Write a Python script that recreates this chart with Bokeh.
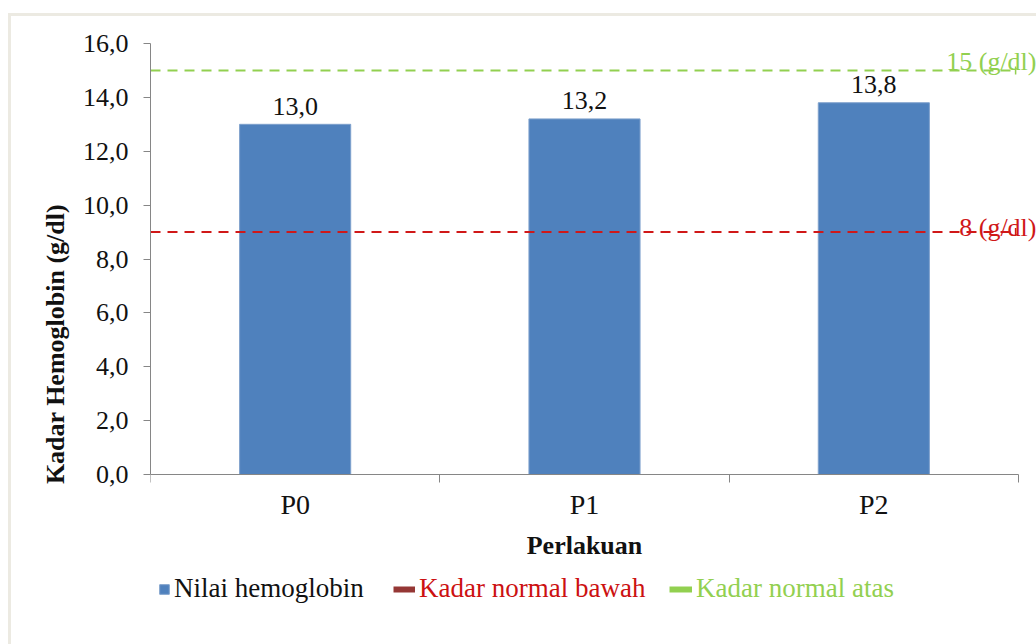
import numpy as np
from bokeh.plotting import figure
from bokeh.models import (FixedTicker, Label, Legend, LegendItem, ColumnDataSource, Range1d)
from bokeh.embed import file_html
from bokeh.resources import INLINE
from bokeh.core.properties import value

# ---- data ----
categories = ["P0", "P1", "P2"]
hemoglobin = [13.0, 13.2, 13.8]
value_labels = ["13,0", "13,2", "13,8"]
normal_low_line = 9.0
normal_high_line = 15.0
normal_low_label = "8 (g/dl)"
normal_high_label = "15 (g/dl)"
y_ticks = [0, 2, 4, 6, 8, 10, 12, 14, 16]
y_tick_labels = ["0,0", "2,0", "4,0", "6,0", "8,0", "10,0", "12,0", "14,0", "16,0"]
series_names = ["Nilai hemoglobin", "Kadar normal bawah", "Kadar normal atas"]
x_title = "Perlakuan"
y_title = "Kadar Hemoglobin (g/dl)"

FONT = "Liberation Serif"
BLUE = "#4F81BD"
GREEN = "#92D050"
RED = "#D01818"
DARKRED = "#953735"
AXIS = "#868686"
TXT = "#111111"
FRAME = "#ECEAE2"

n = len(categories)
xc = [i + 0.5 for i in range(n)]
y_max = y_ticks[-1]
# plot area extends past the axes so that side labels and legend can be drawn
x_end = n + 18 / 289.3
y_start = -170 / 26.94

p = figure(width=1036, height=644, output_backend="svg", toolbar_location=None,
           x_range=Range1d(0, x_end), y_range=Range1d(y_start, y_max),
           min_border_left=150, min_border_right=0, min_border_top=43,
           min_border_bottom=0,
           styles={"background": (f"linear-gradient({FRAME},{FRAME}) 8px 13px / 3px 100% no-repeat, "
                                  f"linear-gradient({FRAME},{FRAME}) 8px 13px / 100% 3px no-repeat, "
                                  "white")})
p.grid.visible = False
p.outline_line_color = None
p.background_fill_color = "white"
p.border_fill_color = None

src = ColumnDataSource(dict(x=xc, top=hemoglobin, lbl=value_labels))
bars = p.vbar(x="x", top="top", bottom=0, width=0.384, source=src,
              fill_color=BLUE, line_color="#7ea0cc", line_width=1)
p.text(x="x", y="top", text="lbl", source=src, text_align="center",
       text_baseline="alphabetic", y_offset=-18, text_font=value(FONT),
       text_font_size="26px", text_color=TXT)

end = n - 0.01
p.line([0, end], [normal_high_line, normal_high_line], line_color=GREEN,
       line_width=2, line_dash="10 7")
p.line([0, end], [normal_low_line, normal_low_line], line_color=RED,
       line_width=2, line_dash="10 7")
p.scatter(x=[end, end], y=[normal_high_line, normal_low_line], marker="dash",
          angle=np.pi / 2, size=8, line_color=[GREEN, RED], line_width=1.5)

p.add_layout(Label(x=n, y=normal_high_line, text=normal_high_label, text_align="right",
                   text_baseline="alphabetic", x_offset=18, y_offset=9,
                   text_font=FONT, text_font_size="26px", text_color=GREEN))
p.add_layout(Label(x=n, y=normal_low_line, text=normal_low_label, text_align="right",
                   text_baseline="alphabetic", x_offset=18, y_offset=5,
                   text_font=FONT, text_font_size="26px", text_color=RED))

# axes
ya = p.yaxis[0]
ya.bounds = (0, y_max)
ya.ticker = FixedTicker(ticks=y_ticks)
ya.major_label_overrides = {t: l for t, l in zip(y_ticks, y_tick_labels)}
ya.axis_line_color = AXIS
ya.major_tick_line_color = AXIS
ya.major_tick_out = 7
ya.major_tick_in = 0
ya.minor_tick_line_color = None
ya.major_label_standoff = 15
ya.major_label_text_font = FONT
ya.major_label_text_font_size = "26px"
ya.major_label_text_color = TXT
ya.axis_label = y_title
ya.axis_label_text_font = FONT
ya.axis_label_text_font_size = "26px"
ya.axis_label_text_font_style = "bold"
ya.axis_label_text_color = TXT
ya.axis_label_standoff = 10

xa = p.xaxis[0]
xa.fixed_location = 0
xa.bounds = (0, n)
xa.ticker = FixedTicker(ticks=xc, minor_ticks=list(range(n + 1)))
xa.major_label_overrides = {t: c for t, c in zip(xc, categories)}
xa.axis_line_color = AXIS
xa.major_tick_line_color = None
xa.major_tick_out = 0
xa.major_tick_in = 0
xa.minor_tick_line_color = AXIS
xa.minor_tick_out = 8
xa.minor_tick_in = 0
xa.major_label_standoff = 6
xa.major_label_text_font = FONT
xa.major_label_text_font_size = "28px"
xa.major_label_text_color = TXT
xa.axis_label = x_title
xa.axis_label_text_font = FONT
xa.axis_label_text_font_size = "26px"
xa.axis_label_text_font_style = "bold"
xa.axis_label_text_color = TXT
xa.axis_label_standoff = 8

# legend (one per item so each label keeps its own colour)
low_swatch = p.line(x=[np.nan], y=[np.nan], line_color=DARKRED, line_width=6)
high_swatch = p.line(x=[np.nan], y=[np.nan], line_color=GREEN, line_width=6)
legend_specs = [
    (series_names[0], bars, TXT, 8, 12),
    (series_names[1], low_swatch, "#CC1111", 243, 22),
    (series_names[2], high_swatch, GREEN, 519, 23),
]
for name, rend, col, xpos, gw in legend_specs:
    lg = Legend(items=[LegendItem(label=name, renderers=[rend])],
                location=(xpos, 40), orientation="horizontal",
                label_text_color=col, label_text_font=FONT,
                label_text_font_size="27px", glyph_width=gw, glyph_height=12,
                label_standoff=4, padding=0, margin=0, spacing=0,
                border_line_color=None, background_fill_alpha=0)
    p.add_layout(lg, "center")

open("out.html", "w").write(file_html(p, INLINE))
